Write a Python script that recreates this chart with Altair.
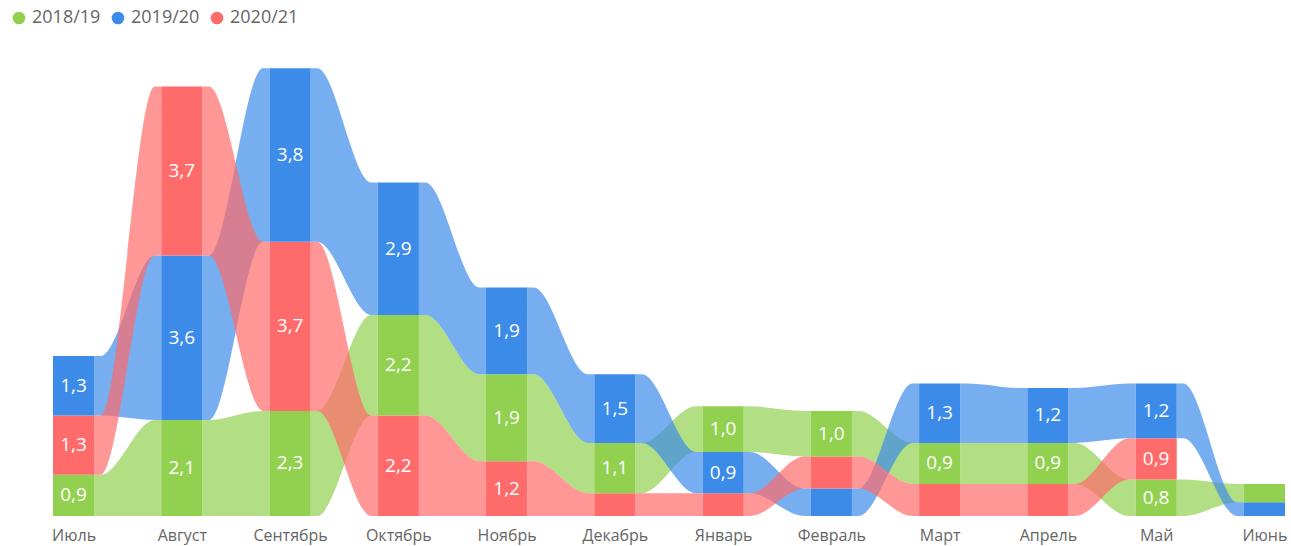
import altair as alt
import pandas as pd

# Monthly values per season (ribbon chart)
months = ["Июль", "Август", "Сентябрь", "Октябрь", "Ноябрь", "Декабрь",
          "Январь", "Февраль", "Март", "Апрель", "Май", "Июнь"]
seasons = ["2018/19", "2019/20", "2020/21"]
s2018_19 = [0.9, 2.1, 2.3, 2.2, 1.9, 1.1, 1.0, 1.0, 0.9, 0.9, 0.8, 0.4]
s2019_20 = [1.3, 3.6, 3.8, 2.9, 1.9, 1.5, 0.9, 0.6, 1.3, 1.2, 1.2, 0.3]
s2020_21 = [1.3, 3.7, 3.7, 2.2, 1.2, 0.5, 0.5, 0.7, 0.7, 0.7, 0.9, 0.0]
colors = ["#92D050", "#3D8BE8", "#FF6B6B"]

series = dict(zip(seasons, [s2018_19, s2019_20, s2020_21]))
tie_order = {"2020/21": 0, "2018/19": 1, "2019/20": 2}

HALF = 0.19      # half width of a column, in x units
FLAT = 0.06      # flat run of a ribbon next to each column
W, H = 1232, 457

# stack each month, smallest value at the bottom
stack = {}
bars = []
for i, m in enumerate(months):
    items = sorted((vals[i], tie_order[s], s) for s, vals in series.items() if vals[i] > 0)
    base = 0.0
    for v, _, s in items:
        stack[(i, s)] = (base, base + v)
        bars.append(dict(idx=i, month=m, season=s, value=v, y0=base, y1=base + v,
                         xl=i - HALF, xr=i + HALF, ym=base + v / 2,
                         label=f"{v:.1f}".replace(".", ",") if v >= 0.8 else ""))
        base += v
bars = pd.DataFrame(bars)

# ribbons joining the same season in neighbouring months
ribbons = []
for s in seasons:
    for i in range(len(months) - 1):
        a, b = stack.get((i, s)), stack.get((i + 1, s))
        if a is None or b is None:
            continue
        seg = f"{s} {i}"
        xa, xb = i + HALF, i + 1 - HALF
        for xp, (lo, hi) in [(xa, a), (xa + FLAT, a), (xb - FLAT, b), (xb, b)]:
            ribbons.append(dict(season=s, seg=seg, xp=xp, lo=lo, hi=hi))
ribbons = pd.DataFrame(ribbons)

xscale = alt.Scale(domain=[-HALF, len(months) - 1 + HALF], nice=False, zero=False)
yscale = alt.Scale(domain=[0, 10], nice=False)
cscale = alt.Scale(domain=seasons, range=colors)

label_expr = "[" + ",".join(f"'{m}'" for m in months) + "][datum.value]"

ribbon_layer = alt.Chart(ribbons).mark_area(interpolate="monotone", opacity=0.7).encode(
    x=alt.X("xp:Q", scale=xscale,
            axis=alt.Axis(values=list(range(len(months))), labelExpr=label_expr,
                          grid=False, ticks=False, domain=False, title=None,
                          labelFontSize=16, labelColor="#666666", labelPadding=11,
                          labelOverlap=False, labelFlush=False)),
    y=alt.Y("lo:Q", scale=yscale, stack=None, axis=None),
    y2="hi:Q",
    color=alt.Color("season:N", scale=cscale,
                    legend=alt.Legend(orient="none", legendX=-43, legendY=-50,
                                      direction="horizontal", title=None,
                                      symbolType="circle", symbolSize=160,
                                      symbolOpacity=1, symbolStrokeWidth=0,
                                      labelFontSize=18, labelColor="#666666",
                                      labelOffset=4, columnPadding=8)),
    detail="seg:N",
)

bar_layer = alt.Chart(bars).mark_rect().encode(
    x=alt.X("xl:Q", scale=xscale),
    x2="xr:Q",
    y=alt.Y("y0:Q", scale=yscale),
    y2="y1:Q",
    color=alt.Color("season:N", scale=cscale),
)

text_layer = alt.Chart(bars).mark_text(color="white", fontSize=19, baseline="middle").encode(
    x=alt.X("idx:Q", scale=xscale),
    y=alt.Y("ym:Q", scale=yscale),
    text="label:N",
)

chart = alt.layer(ribbon_layer, bar_layer, text_layer).properties(
    width=W, height=H, autosize="none",
    padding={"left": 53, "top": 59, "right": 6, "bottom": 30},
).configure(font="Open Sans").configure_view(stroke=None)

chart.save("out.html", embed_options={"renderer": "svg", "actions": False})
